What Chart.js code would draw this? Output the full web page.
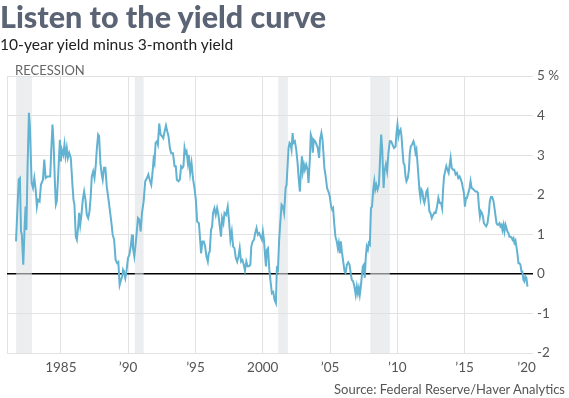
<!DOCTYPE html>
<html>
<head>
<meta charset="utf-8">
<script src="https://cdn.jsdelivr.net/npm/chart.js@4/dist/chart.umd.min.js"></script>
<style>
  html, body { margin: 0; padding: 0; background: #fff; }
  #wrap { position: relative; width: 569px; height: 398px; overflow: hidden; font-family: Lato, "Noto Sans", sans-serif; }
  #chart { position: absolute; left: 0; top: 0; }
  .title { position: absolute; left: 0; top: -2px; font-size: 30.5px; font-weight: 900; color: #5b6474; white-space: nowrap; }
  .sub { position: absolute; left: 0; top: 35px; font-size: 15.6px; color: #222; white-space: nowrap; }
  .rec { position: absolute; left: 15px; top: 62px; font-size: 13px; color: #666; white-space: nowrap; }
  .source { position: absolute; right: 4px; top: 381px; font-size: 13px; color: #555; white-space: nowrap; }
</style>
</head>
<body>
<div id="wrap">
  <canvas id="chart" width="569" height="398"></canvas>
  <div class="title">Listen to the yield curve</div>
  <div class="sub">10-year yield minus 3-month yield</div>
  <div class="rec">RECESSION</div>
  <div class="source">Source: Federal Reserve/Haver Analytics</div>
</div>
<script>
"use strict";

/*-- data: 10-year minus 3-month yield --*/
var dates = [
  1981.67, 1981.87, 1981.96, 1982.04, 1982.10, 1982.21, 1982.31, 1982.38, 1982.44, 1982.53,
  1982.63, 1982.70, 1982.83, 1982.93, 1983.03, 1983.13, 1983.22, 1983.30, 1983.42, 1983.52,
  1983.67, 1983.77, 1983.87, 1984.01, 1984.21, 1984.29, 1984.38, 1984.46, 1984.56, 1984.63,
  1984.70, 1984.81, 1984.93, 1985.00, 1985.07, 1985.18, 1985.27, 1985.35, 1985.44, 1985.52,
  1985.62, 1985.74, 1985.87, 1985.94, 1986.01, 1986.11, 1986.19, 1986.29, 1986.36, 1986.44,
  1986.53, 1986.63, 1986.73, 1986.83, 1986.93, 1987.03, 1987.13, 1987.22, 1987.30, 1987.40,
  1987.50, 1987.59, 1987.67, 1987.77, 1987.84, 1987.94, 1988.04, 1988.11, 1988.21, 1988.31,
  1988.41, 1988.51, 1988.61, 1988.76, 1988.85, 1988.96, 1989.07, 1989.18, 1989.27, 1989.37,
  1989.44, 1989.55, 1989.62, 1989.69, 1989.79, 1989.89, 1989.99, 1990.09, 1990.19, 1990.29,
  1990.36, 1990.46, 1990.61, 1990.73, 1990.83, 1990.93, 1991.03, 1991.15, 1991.27, 1991.40,
  1991.50, 1991.60, 1991.72, 1991.82, 1991.89, 1991.96, 1992.04, 1992.14, 1992.21, 1992.31,
  1992.41, 1992.51, 1992.61, 1992.71, 1992.81, 1992.91, 1993.00, 1993.10, 1993.20, 1993.33,
  1993.45, 1993.54, 1993.62, 1993.74, 1993.84, 1993.94, 1994.04, 1994.11, 1994.19, 1994.26,
  1994.34, 1994.44, 1994.51, 1994.61, 1994.71, 1994.83, 1994.93, 1995.03, 1995.13, 1995.26,
  1995.35, 1995.42, 1995.52, 1995.62, 1995.72, 1995.82, 1995.92, 1995.99, 1996.06, 1996.16,
  1996.24, 1996.31, 1996.41, 1996.51, 1996.61, 1996.71, 1996.81, 1996.90, 1996.98, 1997.08,
  1997.16, 1997.28, 1997.40, 1997.50, 1997.60, 1997.70, 1997.80, 1997.90, 1998.00, 1998.10,
  1998.20, 1998.29, 1998.39, 1998.49, 1998.59, 1998.68, 1998.78, 1998.88, 1998.98, 1999.08,
  1999.15, 1999.25, 1999.35, 1999.44, 1999.54, 1999.64, 1999.74, 1999.84, 1999.94, 2000.01,
  2000.09, 2000.16, 2000.24, 2000.31, 2000.39, 2000.49, 2000.58, 2000.68, 2000.78, 2000.88,
  2000.98, 2001.05, 2001.13, 2001.22, 2001.30, 2001.40, 2001.50, 2001.59, 2001.70, 2001.77,
  2001.85, 2001.92, 2001.99, 2002.07, 2002.14, 2002.22, 2002.29, 2002.39, 2002.49, 2002.59,
  2002.67, 2002.76, 2002.84, 2002.91, 2002.98, 2003.06, 2003.13, 2003.23, 2003.33, 2003.40,
  2003.50, 2003.57, 2003.65, 2003.72, 2003.79, 2003.89, 2003.99, 2004.09, 2004.19, 2004.26,
  2004.36, 2004.44, 2004.51, 2004.58, 2004.68, 2004.78, 2004.88, 2004.98, 2005.08, 2005.16,
  2005.23, 2005.31, 2005.40, 2005.50, 2005.58, 2005.65, 2005.73, 2005.80, 2005.88, 2005.98,
  2006.08, 2006.15, 2006.25, 2006.35, 2006.45, 2006.55, 2006.62, 2006.72, 2006.81, 2006.91,
  2006.99, 2007.07, 2007.14, 2007.21, 2007.29, 2007.36, 2007.44, 2007.51, 2007.58, 2007.66,
  2007.73, 2007.81, 2007.88, 2007.96, 2008.04, 2008.12, 2008.21, 2008.29, 2008.36, 2008.44,
  2008.53, 2008.63, 2008.70, 2008.80, 2008.88, 2008.98, 2009.05, 2009.15, 2009.24, 2009.34,
  2009.44, 2009.54, 2009.64, 2009.75, 2009.87, 2009.94, 2010.01, 2010.09, 2010.16, 2010.24,
  2010.31, 2010.38, 2010.46, 2010.53, 2010.61, 2010.68, 2010.78, 2010.86, 2010.93, 2011.00,
  2011.10, 2011.20, 2011.27, 2011.35, 2011.42, 2011.49, 2011.57, 2011.64, 2011.72, 2011.79,
  2011.86, 2011.94, 2012.01, 2012.09, 2012.16, 2012.24, 2012.31, 2012.38, 2012.46, 2012.56,
  2012.66, 2012.76, 2012.85, 2012.95, 2013.05, 2013.15, 2013.25, 2013.33, 2013.40, 2013.47,
  2013.55, 2013.64, 2013.72, 2013.81, 2013.89, 2013.96, 2014.04, 2014.14, 2014.23, 2014.33,
  2014.43, 2014.53, 2014.63, 2014.72, 2014.80, 2014.87, 2014.95, 2015.02, 2015.10, 2015.17,
  2015.27, 2015.37, 2015.44, 2015.52, 2015.62, 2015.72, 2015.81, 2015.91, 2015.99, 2016.06,
  2016.14, 2016.21, 2016.28, 2016.36, 2016.43, 2016.51, 2016.60, 2016.70, 2016.80, 2016.87,
  2016.95, 2017.05, 2017.15, 2017.22, 2017.30, 2017.37, 2017.44, 2017.51, 2017.59, 2017.66,
  2017.74, 2017.81, 2017.89, 2017.96, 2018.04, 2018.11, 2018.18, 2018.26, 2018.33, 2018.41,
  2018.48, 2018.56, 2018.63, 2018.70, 2018.78, 2018.85, 2018.92, 2019.00, 2019.07, 2019.15,
  2019.22, 2019.29, 2019.37, 2019.44, 2019.51, 2019.59, 2019.67
];
var spread = [
  0.82, 2.38, 2.42, 1.07, 1.00, 0.23, 1.20, 1.70, 1.11, 2.72,
  4.07, 3.73, 2.30, 2.17, 2.42, 2.13, 1.70, 1.87, 1.83, 2.25,
  2.38, 2.89, 2.42, 2.46, 2.46, 3.14, 3.77, 3.31, 2.30, 1.75,
  1.83, 2.55, 3.39, 2.84, 3.14, 3.01, 3.27, 2.97, 3.18, 2.93,
  3.06, 2.93, 2.21, 1.87, 1.75, 0.94, 0.86, 1.20, 1.54, 1.24,
  1.49, 1.87, 2.08, 1.87, 1.49, 1.41, 1.58, 1.96, 2.46, 2.59,
  2.42, 2.72, 3.14, 3.52, 3.48, 2.80, 2.51, 2.38, 2.68, 2.68,
  2.21, 1.96, 1.70, 1.28, 0.99, 0.86, 0.35, 0.27, 0.30, -0.28,
  -0.19, -0.07, 0.10, 0.04, -0.11, 0.10, 0.40, 0.48, 0.69, 0.99,
  0.65, 0.44, 0.94, 1.41, 1.37, 1.07, 1.54, 1.83, 2.34, 2.42,
  2.51, 2.38, 2.25, 2.59, 2.89, 2.80, 3.31, 3.35, 3.27, 3.80,
  3.52, 3.48, 3.43, 3.60, 3.75, 3.60, 3.48, 3.18, 3.05, 3.05,
  2.72, 2.72, 2.38, 2.34, 2.38, 2.72, 2.68, 2.72, 3.18, 3.05,
  3.10, 2.80, 3.01, 2.55, 2.80, 2.38, 2.17, 1.87, 1.32, 1.28,
  0.86, 0.52, 0.82, 0.82, 0.69, 0.44, 0.31, 0.52, 0.56, 1.11,
  1.20, 1.54, 1.66, 1.49, 1.66, 1.49, 1.20, 0.94, 1.41, 1.28,
  1.54, 1.49, 1.70, 1.32, 0.86, 1.07, 0.69, 0.65, 0.40, 0.31,
  0.44, 0.65, 0.31, 0.35, 0.23, 0.08, 0.31, 0.19, 0.19, 0.23,
  0.69, 0.82, 0.86, 1.03, 1.16, 0.99, 1.03, 0.94, 0.86, 1.07,
  0.86, 0.52, 0.19, 0.61, 0.65, 0.10, -0.19, -0.49, -0.46, -0.66,
  -0.74, 0.14, 0.10, 0.86, 1.28, 1.75, 1.70, 1.54, 2.17, 2.25,
  2.76, 3.18, 3.31, 3.27, 3.14, 3.56, 3.31, 3.35, 3.14, 2.80,
  2.42, 2.08, 2.59, 2.97, 2.59, 2.76, 2.63, 2.76, 2.63, 2.30,
  2.89, 3.52, 3.43, 3.06, 3.39, 3.35, 3.27, 3.18, 2.93, 3.39,
  3.56, 3.39, 3.06, 2.68, 2.46, 2.17, 2.08, 1.96, 1.70, 1.62,
  1.66, 1.28, 0.94, 0.82, 0.65, 0.78, 0.52, 0.82, 0.56, 0.31,
  0.06, 0.02, 0.23, 0.29, 0.23, -0.02, -0.15, -0.19, -0.32, -0.53,
  -0.32, -0.49, -0.36, -0.53, -0.32, -0.06, 0.19, 0.23, -0.10, 0.44,
  0.69, 0.61, 0.78, 0.74, 1.66, 1.70, 2.13, 2.34, 2.13, 2.25,
  2.13, 2.25, 2.76, 3.52, 3.14, 2.17, 2.59, 2.76, 2.59, 3.06,
  3.35, 3.35, 3.27, 3.18, 3.22, 3.56, 3.77, 3.48, 3.60, 3.65,
  3.48, 3.14, 2.80, 2.76, 2.46, 2.34, 2.42, 2.63, 3.06, 3.22,
  3.27, 3.35, 3.27, 3.06, 3.14, 2.84, 2.46, 2.13, 1.92, 2.13,
  2.08, 1.87, 1.79, 1.92, 2.08, 2.13, 1.87, 1.58, 1.54, 1.41,
  1.49, 1.55, 1.54, 1.70, 1.92, 1.79, 1.79, 1.66, 2.13, 2.46,
  2.59, 2.72, 2.63, 2.55, 2.76, 2.93, 2.68, 2.63, 2.63, 2.51,
  2.55, 2.42, 2.46, 2.38, 2.30, 2.17, 2.04, 1.70, 1.92, 1.92,
  2.04, 2.17, 2.34, 2.17, 2.15, 2.11, 2.08, 2.08, 2.04, 1.70,
  1.45, 1.58, 1.54, 1.45, 1.28, 1.24, 1.20, 1.28, 1.54, 1.83,
  1.94, 1.94, 1.83, 1.66, 1.45, 1.28, 1.24, 1.24, 1.28, 1.20,
  1.24, 1.11, 1.24, 1.07, 1.24, 1.16, 1.07, 1.03, 0.94, 0.94,
  0.92, 0.86, 0.90, 0.78, 0.84, 0.69, 0.52, 0.27, 0.27, 0.23,
  0.06, 0.06, -0.15, -0.19, -0.06, -0.10, -0.32
];

var recessionStart = [1981.68, 1990.50, 2001.15, 2007.99];
var recessionEnd = [1982.85, 1991.15, 2001.87, 2009.44];

var tickYears = [1981, 1985, 1990, 1995, 2000, 2005, 2010, 2015, 2019.6];
var tickLabels = ['', '1985', '\u201990', '\u201995', '2000', '\u201905', '\u201910', '\u201915', '\u201920'];
var yTicks = [-2, -1, 0, 1, 2, 3, 4, 5];

/*-- recession shading, drawn under the line --*/
var recessionBands = {
  id: 'recessionBands',
  beforeDatasetsDraw: function (chart) {
    var ctx = chart.ctx, area = chart.chartArea, x = chart.scales.x;
    ctx.save();
    ctx.fillStyle = 'rgba(222, 225, 229, 0.6)';
    for (var i = 0; i < recessionStart.length; i++) {
      var x0 = x.getPixelForValue(recessionStart[i]);
      var x1 = x.getPixelForValue(recessionEnd[i]);
      ctx.fillRect(x0, area.top, x1 - x0, area.bottom - area.top);
    }
    ctx.restore();
  }
};

var points = dates.map(function (d, i) { return { x: d, y: spread[i] }; });
var axisFont = { family: 'Lato', size: 13.5 };

new Chart(document.getElementById('chart').getContext('2d'), {
  type: 'line',
  data: {
    datasets: [{
      data: points,
      borderColor: '#62b2d1',
      borderWidth: 2,
      pointRadius: 0,
      tension: 0,
      fill: false
    }]
  },
  plugins: [recessionBands],
  options: {
    responsive: false,
    animation: false,
    layout: { padding: { top: 76, left: 6, right: 0, bottom: 0 } },
    plugins: { legend: { display: false }, tooltip: { enabled: false } },
    scales: {
      x: {
        type: 'linear',
        min: 1981,
        max: 2020.08,
        afterBuildTicks: function (scale) {
          scale.ticks = tickYears.map(function (v) { return { value: v }; });
        },
        afterFit: function (scale) { scale.height = 45; },
        ticks: {
          autoSkip: false,
          maxRotation: 0,
          padding: 7,
          color: '#555',
          font: axisFont,
          callback: function (v) {
            var i = tickYears.indexOf(v);
            return i >= 0 ? tickLabels[i] : '';
          }
        },
        grid: {
          drawTicks: false,
          color: function (c) {
            return c.tick && c.tick.value === 2019.6 ? 'rgba(0,0,0,0)' : '#e2e2e2';
          }
        },
        border: { display: false }
      },
      y: {
        position: 'right',
        min: -2,
        max: 5,
        afterBuildTicks: function (scale) {
          scale.ticks = yTicks.map(function (v) { return { value: v }; });
        },
        afterFit: function (scale) { scale.width = 36; },
        ticks: {
          padding: 4,
          color: '#555',
          font: axisFont,
          callback: function (v) { return v === 5 ? '5 %' : String(v); }
        },
        grid: {
          drawTicks: false,
          color: function (c) { return c.tick && c.tick.value === 0 ? '#000' : '#e2e2e2'; },
          lineWidth: function (c) { return c.tick && c.tick.value === 0 ? 1.5 : 1; }
        },
        border: { display: false }
      }
    }
  }
});
</script>
</body>
</html>
